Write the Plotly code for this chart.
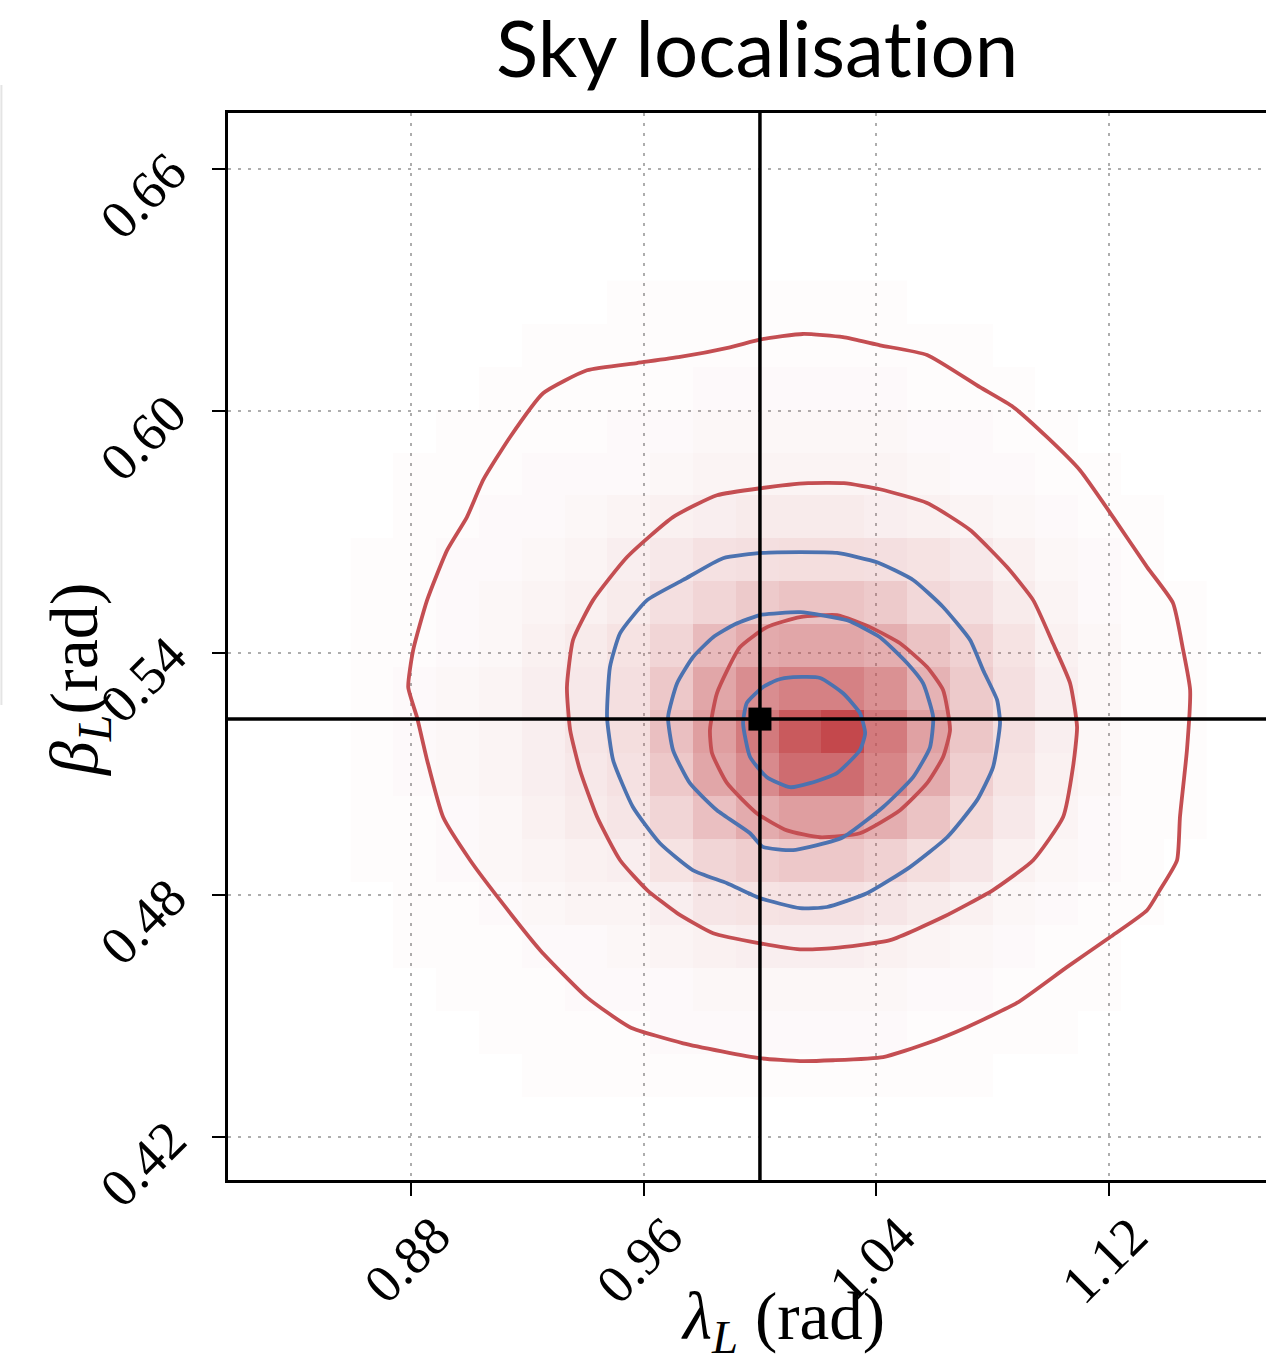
import plotly.graph_objects as go

# ---------------------------------------------------------------------------
# Posterior on the sky position (ecliptic longitude / latitude, radians)
# ---------------------------------------------------------------------------

# 2D histogram of posterior samples: bin centres and relative counts (peak = 100)
lam_centres = [0.8665, 0.8812, 0.8959, 0.9107, 0.9254, 0.9401, 0.9548, 0.9696,
               0.9843, 0.9990, 1.0138, 1.0285, 1.0432, 1.0579, 1.0727, 1.0874,
               1.1021, 1.1169, 1.1316, 1.1463]
beta_centres_top_down = [0.6270, 0.6164, 0.6057, 0.5951, 0.5844, 0.5738, 0.5631,
                         0.5525, 0.5418, 0.5312, 0.5205, 0.5099, 0.4992, 0.4886,
                         0.4779, 0.4673, 0.4566, 0.4460, 0.4353]
counts_top_down = [
    [0, 0, 0, 0, 0, 0, 1, 1, 1, 1, 1, 1, 1, 0, 0, 0, 0, 0, 0, 0],
    [0, 0, 0, 0, 1, 1, 1, 1, 1, 1, 1, 1, 1, 1, 1, 0, 0, 0, 0, 0],
    [0, 0, 0, 1, 1, 1, 1, 1, 2, 2, 2, 2, 2, 1, 1, 1, 0, 0, 0, 0],
    [0, 0, 1, 1, 1, 1, 2, 2, 3, 3, 3, 3, 3, 2, 2, 1, 1, 0, 0, 0],
    [0, 1, 1, 1, 2, 2, 2, 3, 4, 4, 4, 4, 4, 3, 2, 2, 1, 1, 0, 0],
    [0, 1, 1, 2, 2, 3, 4, 5, 6, 7, 7, 7, 6, 5, 4, 3, 2, 1, 1, 0],
    [1, 1, 2, 2, 3, 4, 6, 8, 11, 12, 13, 13, 12, 10, 8, 5, 3, 2, 1, 0],
    [1, 1, 2, 3, 4, 5, 7, 12, 18, 24, 28, 28, 24, 16, 12, 7, 4, 2, 1, 1],
    [1, 1, 2, 3, 5, 7, 10, 18, 33, 43, 45, 45, 40, 28, 20, 10, 5, 3, 1, 1],
    [1, 2, 3, 4, 6, 8, 12, 25, 45, 60, 68, 68, 58, 38, 24, 12, 6, 3, 1, 1],
    [1, 2, 3, 4, 6, 9, 13, 30, 50, 72, 90, 100, 72, 48, 26, 12, 6, 3, 1, 1],
    [1, 2, 3, 4, 6, 8, 11, 25, 45, 62, 80, 80, 65, 42, 22, 10, 5, 3, 1, 1],
    [1, 1, 2, 3, 5, 7, 9, 18, 30, 42, 50, 50, 40, 28, 15, 8, 4, 2, 1, 1],
    [1, 1, 2, 3, 4, 5, 6, 10, 18, 22, 25, 25, 20, 13, 9, 5, 3, 2, 1, 0],
    [0, 1, 1, 2, 3, 4, 4, 6, 9, 10, 11, 11, 9, 7, 5, 3, 2, 1, 1, 0],
    [0, 1, 1, 1, 2, 2, 3, 4, 5, 6, 6, 6, 5, 4, 3, 2, 1, 1, 0, 0],
    [0, 0, 1, 1, 1, 2, 2, 2, 3, 3, 3, 3, 3, 2, 2, 1, 1, 1, 0, 0],
    [0, 0, 0, 1, 1, 1, 1, 2, 2, 2, 2, 2, 2, 1, 1, 1, 1, 0, 0, 0],
    [0, 0, 0, 0, 1, 1, 1, 1, 1, 1, 1, 1, 1, 1, 1, 0, 0, 0, 0, 0],
]

# Credible-region contours (lambda, beta) of the two posteriors
red_outer_lam = [1.0148, 1.0286, 1.0413, 1.0575, 1.0757, 1.0871, 1.0988, 1.1101,
                 1.1215, 1.1332, 1.1421, 1.1456, 1.1480, 1.1469, 1.1445, 1.1435,
                 1.1376, 1.1332, 1.1204, 1.1056, 1.0884, 1.0712, 1.0575, 1.0424,
                 1.0252, 1.0138, 1.0000, 0.9736, 0.9553, 0.9405, 0.9244, 0.9106,
                 0.9003, 0.8910, 0.8855, 0.8820, 0.8790, 0.8807, 0.8855, 0.8924,
                 0.8992, 0.9048, 0.9140, 0.9254, 0.9405, 0.9577, 0.9725, 0.9897,
                 1.0007]
red_outer_beta = [0.6191, 0.6183, 0.6163, 0.6139, 0.6059, 0.6010, 0.5935, 0.5853,
                  0.5737, 0.5613, 0.5524, 0.5407, 0.5308, 0.5159, 0.4993, 0.4886,
                  0.4812, 0.4762, 0.4695, 0.4621, 0.4532, 0.4472, 0.4432, 0.4398,
                  0.4390, 0.4388, 0.4395, 0.4432, 0.4472, 0.4546, 0.4663, 0.4787,
                  0.4886, 0.4993, 0.5134, 0.5241, 0.5315, 0.5407, 0.5531, 0.5655,
                  0.5737, 0.5829, 0.5935, 0.6044, 0.6101, 0.6119, 0.6134, 0.6158,
                  0.6178]

red_mid_lam = [1.0166, 1.0289, 1.0413, 1.0575, 1.0723, 1.0850, 1.0940, 1.1008,
               1.1067, 1.1091, 1.1077, 1.1043, 1.0940, 1.0802, 1.0630, 1.0448,
               1.0252, 1.0138, 1.0000, 0.9839, 0.9715, 0.9612, 0.9519, 0.9440,
               0.9381, 0.9347, 0.9336, 0.9357, 0.9426, 0.9543, 0.9701, 0.9852,
               1.0007]
red_mid_beta = [0.5821, 0.5821, 0.5806, 0.5772, 0.5705, 0.5613, 0.5531, 0.5424,
                0.5325, 0.5216, 0.5117, 0.4993, 0.4886, 0.4812, 0.4745, 0.4688,
                0.4668, 0.4665, 0.4680, 0.4705, 0.4755, 0.4812, 0.4886, 0.4993,
                0.5109, 0.5209, 0.5315, 0.5432, 0.5531, 0.5638, 0.5737, 0.5791,
                0.5809]

red_inner_lam = [1.0024, 1.0138, 1.0265, 1.0379, 1.0482, 1.0575, 1.0630, 1.0654,
                 1.0630, 1.0575, 1.0482, 1.0344, 1.0207, 1.0093, 0.9990, 0.9887,
                 0.9835, 0.9828, 0.9852, 0.9931]
red_inner_beta = [0.5464, 0.5489, 0.5494, 0.5464, 0.5424, 0.5365, 0.5308, 0.5209,
                  0.5142, 0.5077, 0.5010, 0.4953, 0.4943, 0.4960, 0.5002, 0.5077,
                  0.5152, 0.5209, 0.5300, 0.5414]

blue_outer_lam = [1.0010, 1.0138, 1.0265, 1.0403, 1.0527, 1.0630, 1.0723, 1.0768,
                  1.0816, 1.0826, 1.0802, 1.0747, 1.0644, 1.0516, 1.0368, 1.0231,
                  1.0138, 1.0000, 0.9887, 0.9770, 0.9656, 0.9563, 0.9495, 0.9474,
                  0.9484, 0.9519, 0.9612, 0.9736, 0.9873]
blue_outer_beta = [0.5648, 0.5650, 0.5648, 0.5625, 0.5581, 0.5514, 0.5432, 0.5357,
                   0.5283, 0.5226, 0.5117, 0.5035, 0.4943, 0.4869, 0.4804, 0.4770,
                   0.4767, 0.4792, 0.4829, 0.4861, 0.4928, 0.5018, 0.5134, 0.5241,
                   0.5365, 0.5449, 0.5531, 0.5581, 0.5635]

blue_mid_lam = [1.0000, 1.0138, 1.0300, 1.0413, 1.0506, 1.0561, 1.0596, 1.0585,
                1.0527, 1.0424, 1.0286, 1.0172, 1.0114, 1.0010, 0.9966, 0.9852,
                0.9759, 0.9701, 0.9684, 0.9715, 0.9770, 0.9839, 0.9914]
blue_mid_beta = [0.5494, 0.5501, 0.5481, 0.5439, 0.5375, 0.5325, 0.5241, 0.5166,
                 0.5092, 0.5018, 0.4943, 0.4919, 0.4911, 0.4919, 0.4953, 0.5010,
                 0.5077, 0.5159, 0.5241, 0.5325, 0.5390, 0.5439, 0.5471]

blue_inner_lam = [1.0114, 1.0207, 1.0286, 1.0344, 1.0362, 1.0344, 1.0265, 1.0172,
                  1.0104, 1.0024, 0.9966, 0.9942, 0.9955, 1.0010, 1.0059]
blue_inner_beta = [0.5340, 0.5338, 0.5300, 0.5251, 0.5201, 0.5159, 0.5102, 0.5077,
                   0.5067, 0.5092, 0.5142, 0.5226, 0.5276, 0.5315, 0.5333]

# Injected (true) source position
true_lam = 1.0
true_beta = 0.5236

# Axes
lam_ticks = [0.88, 0.96, 1.04, 1.12]
beta_ticks = [0.42, 0.48, 0.54, 0.60, 0.66]
lam_range = [0.8170, 1.1741]
beta_range = [0.4093, 0.6739]

RED = "#C44E52"
BLUE = "#4C72B0"
SERIF = "Liberation Serif, DejaVu Serif, serif"

fig = go.Figure()

# density histogram (transparent where empty so the grid shows through)
z_rows = [[(v if v > 0 else None) for v in row] for row in counts_top_down[::-1]]
fig.add_trace(go.Heatmap(
    x=lam_centres,
    y=beta_centres_top_down[::-1],
    z=z_rows,
    zmin=0, zmax=100,
    colorscale=[[0, "rgba(196,78,82,0)"], [0.1, "rgba(196,78,82,0.16)"],
                [0.3, "rgba(196,78,82,0.36)"], [0.5, "rgba(196,78,82,0.55)"],
                [0.75, "rgba(196,78,82,0.78)"], [1, "rgba(196,72,76,1)"]],
    showscale=False,
    hoverinfo="skip",
))


def closed(xs, ys):
    return list(xs) + [xs[0]], list(ys) + [ys[0]]


for lx, by in [(red_outer_lam, red_outer_beta), (red_mid_lam, red_mid_beta),
               (red_inner_lam, red_inner_beta)]:
    cx, cy = closed(lx, by)
    fig.add_trace(go.Scatter(x=cx, y=cy, mode="lines",
                             line=dict(color=RED, width=3.8, shape="spline",
                                       smoothing=0.5),
                             showlegend=False))

for lx, by in [(blue_outer_lam, blue_outer_beta), (blue_mid_lam, blue_mid_beta),
               (blue_inner_lam, blue_inner_beta)]:
    cx, cy = closed(lx, by)
    fig.add_trace(go.Scatter(x=cx, y=cy, mode="lines",
                             line=dict(color=BLUE, width=3.8, shape="spline",
                                       smoothing=0.5),
                             showlegend=False))

# true value crosshair and marker
fig.add_shape(type="line", xref="x", yref="y domain", x0=true_lam, x1=true_lam,
              y0=0, y1=1, line=dict(color="black", width=3.5), layer="above")
fig.add_shape(type="line", xref="x domain", yref="y", x0=0, x1=1,
              y0=true_beta, y1=true_beta, line=dict(color="black", width=3.5),
              layer="above")
fig.add_trace(go.Scatter(x=[true_lam], y=[true_beta], mode="markers",
                         marker=dict(symbol="square", size=23, color="black"),
                         showlegend=False))

grid_style = dict(showgrid=True, gridcolor="#adadad", gridwidth=2,
                  griddash="3px,7px")

fig.update_xaxes(range=lam_range, tickvals=lam_ticks, showticklabels=False,
                 ticks="outside", ticklen=13, tickwidth=2, tickcolor="black",
                 showline=True, linecolor="black", linewidth=2.5, mirror=True,
                 zeroline=False, **grid_style)
fig.update_yaxes(range=beta_range, tickvals=beta_ticks, showticklabels=False,
                 ticks="outside", ticklen=13, tickwidth=2, tickcolor="black",
                 showline=True, linecolor="black", linewidth=2.5, mirror=False,
                 zeroline=False, **grid_style)

annotations = []
# rotated tick labels
for v in lam_ticks:
    annotations.append(dict(x=v, y=0, xref="x", yref="paper", text=f"{v:.2f}",
                            showarrow=False, textangle=-45, xanchor="center",
                            yanchor="middle", xshift=-4, yshift=-80,
                            font=dict(family=SERIF, size=54, color="black")))
for v in beta_ticks:
    annotations.append(dict(x=0, y=v, xref="paper", yref="y", text=f"{v:.2f}",
                            showarrow=False, textangle=-45, xanchor="center",
                            yanchor="middle", xshift=-85, yshift=-27,
                            font=dict(family=SERIF, size=54, color="black")))

# axis titles
annotations.append(dict(x=0.5347, y=0, xref="paper", yref="paper",
                        text="<i>λ</i><sub><i>L</i></sub> (rad)", showarrow=False,
                        xanchor="center", yanchor="middle", yshift=-141,
                        font=dict(family=SERIF, size=67, color="black")))
annotations.append(dict(x=0, y=0.4686, xref="paper", yref="paper",
                        text="<i>β</i><sub><i>L</i></sub>(rad)", showarrow=False,
                        textangle=-90, xanchor="center", yanchor="middle",
                        xshift=-150,
                        font=dict(family=SERIF, size=68, color="black")))
# title; the "t" sits in its own run so Lato keeps "t" and "i" as separate glyphs
annotations.append(dict(x=0.5096, y=1, xref="paper", yref="paper",
                        text="Sky localisa<span style='font-size:78.2px'>t</span>ion",
                        showarrow=False,
                        xanchor="center", yanchor="middle", yshift=66,
                        font=dict(family="Lato, Open Sans, sans-serif", size=78,
                                  color="black")))

# faint edge of the neighbouring panel
fig.add_shape(type="line", xref="paper", yref="paper", x0=-0.2183, x1=-0.2183,
              y0=0.4452, y1=1.0263, line=dict(color="#e4e4e4", width=2))

fig.update_layout(
    width=1266, height=1366,
    margin=dict(l=228, r=0, t=113, b=186),
    paper_bgcolor="white", plot_bgcolor="white",
    showlegend=False,
    annotations=annotations,
)

fig.write_html("out.html")
